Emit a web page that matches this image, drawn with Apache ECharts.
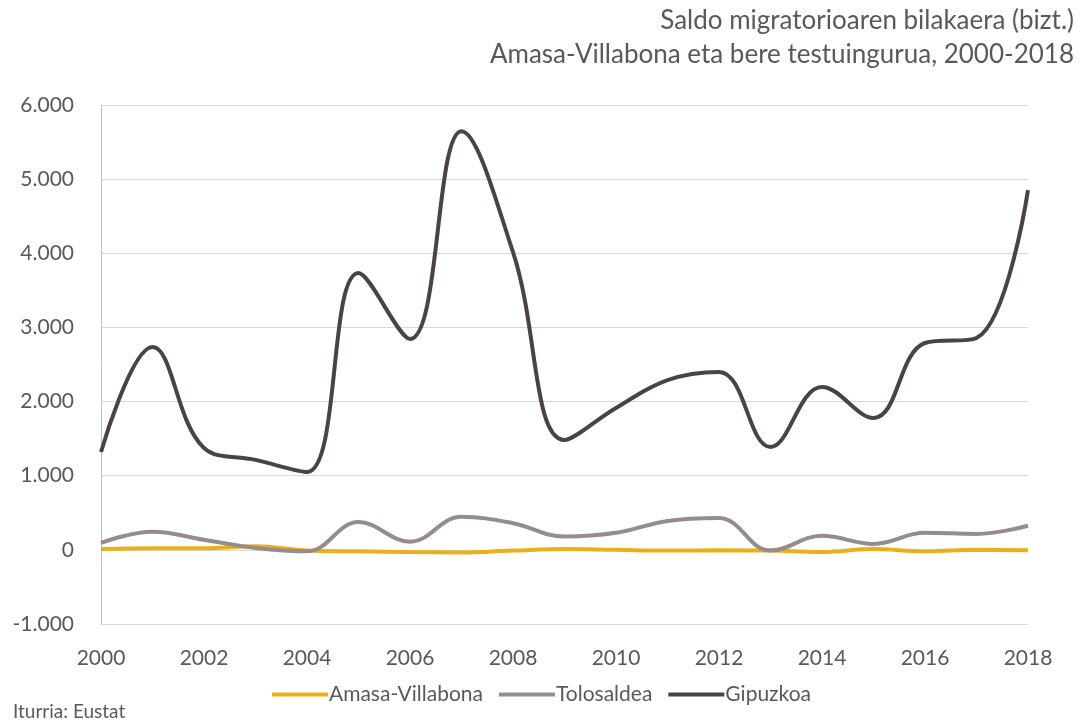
<!DOCTYPE html>
<html>
<head>
<meta charset="utf-8">
<script src="https://cdn.jsdelivr.net/npm/echarts@6/dist/echarts.min.js"></script>
<style>
  html, body { margin: 0; padding: 0; background: #fff; }
  #main { width: 1083px; height: 724px; }
</style>
</head>
<body>
<div id="main"></div>
<script>
var years = ['2000','2001','2002','2003','2004','2005','2006','2007','2008','2009',
             '2010','2011','2012','2013','2014','2015','2016','2017','2018'];
var amasa = [10, 20, 20, 50, -10, -20, -30, -35, -10, 10, 0, -10, -5, -10, -30, 10, -20, 0, -5];
var tolosaldea = [95, 245, 135, 25, -20, 375, 110, 445, 360, 180, 230, 390, 430, -10, 190, 80, 230, 215, 325];
var gipuzkoa = [1320, 2735, 1375, 1213, 1050, 3733, 2844, 5647, 4016, 1482, 1914, 2290, 2400, 1388, 2197, 1779, 2790, 2857, 4852];

var fontFam = 'Lato, sans-serif';
var textColor = '#595959';

function fmt(v) {
  var s = Math.abs(v).toString().replace(/\B(?=(\d{3})+(?!\d))/g, '.');
  return (v < 0 ? '-' : '') + s;
}

var myChart = echarts.init(document.getElementById('main'));
myChart.setOption({
    animation: false,
    title: [
        {
            text: 'Saldo migratorioaren bilakaera (bizt.)',
            right: 4,
            top: 3,
            textStyle: { fontFamily: fontFam, fontSize: 26, fontWeight: 'normal', color: textColor }
        },
        {
            text: 'Amasa-Villabona eta bere testuingurua, 2000-2018',
            right: 4,
            top: 37,
            textStyle: { fontFamily: fontFam, fontSize: 26, fontWeight: 'normal', color: textColor }
        },
        {
            text: 'Iturria: Eustat',
            left: 8,
            bottom: -2,
            textStyle: { fontFamily: fontFam, fontSize: 19, fontWeight: 'normal', color: textColor }
        }
    ],
    legend: {
        bottom: 14,
        left: 'center',
        itemWidth: 56,
        itemHeight: 4,
        itemGap: 16,
        icon: 'rect',
        textStyle: { fontFamily: fontFam, fontSize: 21, color: textColor, padding: [0, 0, 0, -4] },
        data: ['Amasa-Villabona', 'Tolosaldea', 'Gipuzkoa']
    },
    grid: { left: 101, right: 55, top: 105, bottom: 100 },
    xAxis: {
        type: 'category',
        boundaryGap: false,
        data: years,
        axisLine: { show: false },
        axisTick: { show: false },
        axisLabel: {
            interval: 1,
            margin: 24,
            fontFamily: fontFam, fontSize: 21, color: textColor
        },
        splitLine: { show: false }
    },
    yAxis: {
        type: 'value',
        min: -1000,
        max: 6000,
        interval: 1000,
        axisLine: { show: true, lineStyle: { color: '#bfbfbf', width: 1 } },
        axisTick: { show: false },
        axisLabel: {
            margin: 27,
            fontFamily: fontFam, fontSize: 21, color: textColor,
            formatter: fmt
        },
        splitLine: { lineStyle: { color: '#d9d9d9', width: 1 } }
    },
    series: [
        {
            name: 'Amasa-Villabona',
            type: 'line',
            data: amasa,
            smooth: 0.4,
            showSymbol: false,
            lineStyle: { width: 4, color: '#ECAE1A' },
            itemStyle: { color: '#ECAE1A' }
        },
        {
            name: 'Tolosaldea',
            type: 'line',
            data: tolosaldea,
            smooth: 0.4,
            showSymbol: false,
            lineStyle: { width: 4, color: '#968C8D' },
            itemStyle: { color: '#968C8D' }
        },
        {
            name: 'Gipuzkoa',
            type: 'line',
            data: gipuzkoa,
            smooth: 0.4,
            showSymbol: false,
            lineStyle: { width: 4, color: '#4A4344' },
            itemStyle: { color: '#4A4344' }
        }
    ]
});
</script>
</body>
</html>
